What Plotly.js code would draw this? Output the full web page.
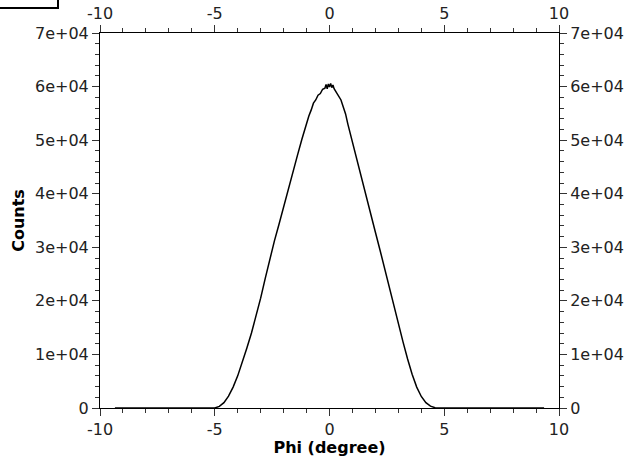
<!DOCTYPE html>
<html>
<head>
<meta charset="utf-8">
<script src="https://cdn.plot.ly/plotly-3.0.1.min.js"></script>
<style>html,body{margin:0;padding:0;background:#fff;}#chart{width:632px;height:457px;}</style>
</head>
<body>
<div id="chart"></div>
<script>
// Data (Phi in degrees vs counts)
const phi = [-9.35, -7.0, -5.2, -5.0, -4.8, -4.6, -4.4, -4.2, -4.0, -3.8, -3.6, -3.4, -3.2, -3.0, -2.8, -2.6, -2.4, -2.2, -2.0, -1.8, -1.6, -1.4, -1.2, -1.0,
  -0.9, -0.8, -0.7, -0.6, -0.5, -0.4, -0.3, -0.2, -0.15, -0.1, -0.05, 0.0, 0.05, 0.1, 0.15, 0.2, 0.3, 0.4, 0.5, 0.6, 0.7, 0.8, 0.9,
  1.0, 1.2, 1.4, 1.6, 1.8, 2.0, 2.2, 2.4, 2.6, 2.8, 3.0, 3.2, 3.4, 3.6, 3.8, 4.0, 4.2, 4.4, 4.6, 4.8, 5.0, 7.0, 9.35];
const counts = [0, 0, 0, 0, 300, 1000, 2200, 3900, 6000, 8400, 11200, 14000, 17200, 20500, 24200, 28000, 31200, 34300, 37600, 40600, 44000, 47100, 50200, 53200,
  54500, 55600, 56900, 57500, 58400, 58700, 59500, 59700, 60400, 59600, 60500, 59900, 60600, 59800, 60300, 59600, 58900, 58300, 57500, 56200, 54900, 53000, 51300,
  49400, 46000, 42600, 39100, 35800, 32800, 29500, 26000, 22600, 19100, 15600, 12400, 9200, 6300, 3900, 2150, 1000, 350, 60, 0, 0, 0, 0];

const xTickVals = [-10, -5, 0, 5, 10];
const xTickText = ['-10', '-5', '0', '5', '10'];
const yTickVals = [0, 10000, 20000, 30000, 40000, 50000, 60000, 70000];
const yTickText = ['0', '1e+04', '2e+04', '3e+04', '4e+04', '5e+04', '6e+04', '7e+04'];

const tickFont = {family: 'DejaVu Sans, sans-serif', size: 16, color: '#222'};
const titleFont = {family: 'DejaVu Sans, sans-serif', size: 16, color: '#000', weight: 'bold'};

const baseAxis = {
  showgrid: false, zeroline: false, showline: true, linecolor: '#000', linewidth: 1,
  ticks: 'outside', ticklen: 7, tickwidth: 1, tickcolor: '#333',
  tickfont: tickFont, tickmode: 'array'
};

const traces = [
  {x: phi, y: counts, type: 'scatter', mode: 'lines', line: {color: '#000', width: 1.5}, hoverinfo: 'skip', showlegend: false},
  {x: phi, y: counts, type: 'scatter', mode: 'lines', xaxis: 'x2', yaxis: 'y2', opacity: 0, line: {width: 0.1}, hoverinfo: 'skip', showlegend: false}
];

const xMinor = {dtick: 1, ticks: 'outside', ticklen: 4, tickcolor: '#333'};
const yMinor = {dtick: 2000, ticks: 'outside', ticklen: 4, tickcolor: '#333'};

const layout = {
  width: 632, height: 457,
  margin: {l: 100, r: 73, t: 33, b: 49, pad: 0},
  paper_bgcolor: '#fff', plot_bgcolor: '#fff',
  showlegend: false,
  xaxis: Object.assign({}, baseAxis, {range: [-10, 10], tickvals: xTickVals, ticktext: xTickText, minor: xMinor,
    title: {text: 'Phi (degree)', font: titleFont, standoff: 4}}),
  yaxis: Object.assign({}, baseAxis, {range: [0, 70000], tickvals: yTickVals, ticktext: yTickText, minor: yMinor,
    title: {text: 'Counts', font: titleFont, standoff: 6}}),
  xaxis2: Object.assign({}, baseAxis, {range: [-10, 10], tickvals: xTickVals, ticktext: xTickText, minor: xMinor,
    overlaying: 'x', side: 'top', anchor: 'y'}),
  yaxis2: Object.assign({}, baseAxis, {range: [0, 70000], tickvals: yTickVals, ticktext: yTickText, minor: yMinor,
    overlaying: 'y', side: 'right', anchor: 'x'}),
  shapes: [
    {type: 'rect', xref: 'paper', yref: 'paper', x0: -0.23, x1: -0.0915, y0: 1.0667, y1: 1.12,
      line: {color: '#000', width: 2}, fillcolor: 'rgba(0,0,0,0)'}
  ]
};

Plotly.newPlot('chart', traces, layout, {displayModeBar: false, staticPlot: true});
</script>
</body>
</html>
